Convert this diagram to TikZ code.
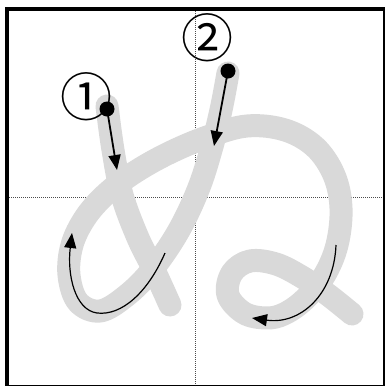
\documentclass[tikz,border=0pt]{standalone}
\usepackage{fontspec}
\newfontfamily\cjk{Noto Sans CJK JP}
\usetikzlibrary{arrows.meta}
\begin{document}
\begin{tikzpicture}[x=1pt, y=-1pt,
        guide/.style={draw=black!70, line width=0.9pt, dash pattern=on 1pt off 1pt},
        kana/.style={draw=black!15, line width=23pt, line cap=round, line join=round},
        dot/.style={circle, fill=black, inner sep=0pt, minimum size=15pt},
        num/.style={font=\cjk\fontsize{52}{52}\selectfont, inner sep=0pt},
        order/.style={line width=1.8pt, -{Triangle[length=15pt,width=12pt]}},
        turn/.style={line width=1.2pt, -{Triangle[length=15pt,width=12pt]}},
    ]
    \useasboundingbox (0,0) rectangle (385,386);
    \fill[white] (0,0) rectangle (385,386);
    % guide lines
    \draw[guide] (195,9) -- (195,386);
    \draw[guide] (7,197.5) -- (385,197.5);
    % strokes
    \draw[kana] plot[smooth, tension=0.6] coordinates {(107,106) (113,150) (122,195) (138,238) (155,272) (170,305)};
    \draw[kana] plot[smooth, tension=0.6] coordinates {(228,73) (221,110) (211,150) (198,190) (178,232) (152,270) (126,296) (100,311) (78,302) (69,275) (72,245) (85,218) (105,195) (132,174) (167,154) (207,137) (247,126) (285,130) (315,147) (334,175) (341,208) (337,245) (324,276) (304,300) (284,314) (266,318) (244,313) (228,295) (232,273) (250,261) (276,264) (302,277) (327,294) (352,314)};
    % frame
    \draw[line width=4pt] (7,9) rectangle (384.5,387);
    % start points and numbers
    \node[dot] (p1) at (107,109) {};
    \node[dot] (p2) at (228,71) {};
    \node[num] (n1) at (86,97) {①};
    \node[num] (n2) at (207,38) {②};
    \coordinate (t1) at (117,170);
    \coordinate (t2) at (214,146);
    \coordinate (c1) at (165,253);
    \coordinate (t3) at (72,233);
    \coordinate (c2) at (336,245);
    \coordinate (t4) at (252,318);
    % arrows
    \draw[order] (p1.center) -- (t1);
    \draw[order] (p2.center) -- (t2);
    \draw[turn] (c1) .. controls (148,292) and (122,316) .. (97,313) .. controls (75,310) and (67,275) .. (t3);
    \draw[turn] (c2) .. controls (334,295) and (300,325) .. (t4);
\end{tikzpicture}
\end{document}
